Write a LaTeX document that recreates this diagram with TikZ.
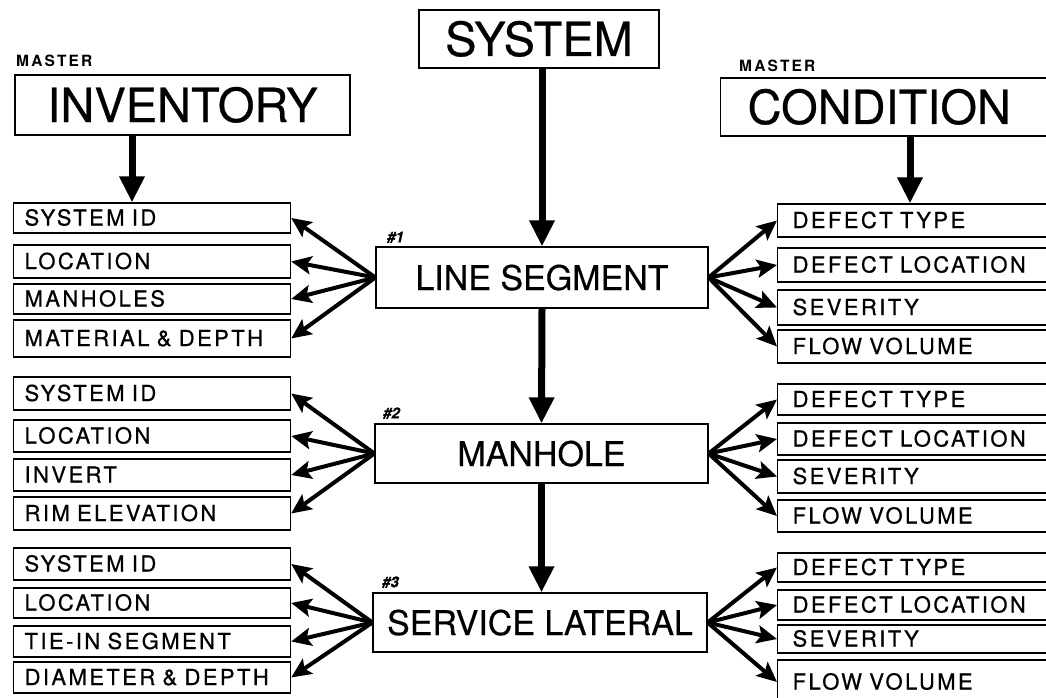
\documentclass[tikz,border=0pt]{standalone}
\usepackage{fontspec}
\setmainfont{TeX Gyre Heros}[FakeBold=0.5]
\newfontfamily\boxfont[LetterSpace=11,FakeBold=0.7]{TeX Gyre Heros}
\newfontfamily\masterfont[LetterSpace=14]{TeX Gyre Heros}
\usetikzlibrary{arrows.meta}
\tikzset{
  box/.style={draw, line width=1.2pt, inner sep=0pt},
  bigbox/.style={box, font=\fontsize{47}{50}\selectfont, text height=34pt, text depth=0pt},
  midbox/.style={box, font=\fontsize{34}{38}\selectfont, text height=25pt, text depth=0pt},
  lbox/.style={box, anchor=west, font=\boxfont\fontsize{22}{24}\selectfont,
    text height=15pt, text depth=0pt, text width=255pt, align=left, inner xsep=11pt},
  rbox/.style={box, anchor=west, font=\boxfont\fontsize{22}{24}\selectfont,
    text height=15pt, text depth=0pt, text width=290pt, align=left, inner xsep=15pt},
  masterlbl/.style={inner sep=0pt, anchor=south west, font=\masterfont\bfseries\fontsize{15.5}{16}\selectfont},
  numlbl/.style={inner sep=0pt, anchor=south west, font=\bfseries\itshape\fontsize{15}{16}\selectfont},
  mainarrow/.style={line width=7pt, -{Triangle[width=24pt,length=26pt]}},
  fan/.style={line width=4pt, -{Stealth[width=18pt,length=20pt,inset=4pt]}}
}
\begin{document}
\begin{tikzpicture}[x=1pt,y=-1pt]
\useasboundingbox (0,0) rectangle (1046,698);
\clip (0,0) rectangle (1046,698);
\fill[white] (0,0) rectangle (1046,698);

% top boxes
\node[bigbox, minimum width=240pt, minimum height=58pt] (sys) at (539,39) {SYSTEM};
\node[masterlbl] (m1) at (16,67) {MASTER};
\node[bigbox, minimum width=335pt, minimum height=60pt] (inv) at (182.5,105) {INVENTORY};
\node[masterlbl] (m2) at (739,72) {MASTER};
\node[bigbox, anchor=west, minimum width=340pt, minimum height=58pt, text width=320pt, inner xsep=27pt, align=left] (cond) at (720,107) {CONDITION};

% central boxes
\node[midbox, minimum width=332pt, minimum height=61pt] (ls) at (542,277.5) {LINE SEGMENT};
\node[midbox, minimum width=333pt, minimum height=59pt] (mh) at (541.5,453.5) {MANHOLE};
\node[midbox, minimum width=334pt, minimum height=59pt] (sl) at (540,622.5) {SERVICE LATERAL};
\node[numlbl] (n1) at (387,243) {\#1};
\node[numlbl] (n2) at (383,419) {\#2};
\node[numlbl] (n3) at (382,588) {\#3};

% left group 1
\node[lbox, minimum height=30pt] (a1) at (13,218) {SYSTEM ID};
\node[lbox, minimum height=33pt] (a2) at (13,261.5) {LOCATION};
\node[lbox, minimum height=30pt] (a3) at (13,299) {MANHOLES};
\node[lbox, minimum height=37pt] (a4) at (13,338.5) {MATERIAL \& DEPTH};
% left group 2
\node[lbox, minimum height=33pt] (b1) at (13,393.5) {SYSTEM ID};
\node[lbox, minimum height=32pt] (b2) at (13,436) {LOCATION};
\node[lbox, minimum height=32pt] (b3) at (13,475) {INVERT};
\node[lbox, minimum height=33pt] (b4) at (13,513.5) {RIM ELEVATION};
% left group 3
\node[lbox, minimum height=32pt] (c1) at (13,564) {SYSTEM ID};
\node[lbox, minimum height=30pt] (c2) at (13,603) {LOCATION};
\node[lbox, minimum height=31pt] (c3) at (13,641.5) {TIE-IN SEGMENT};
\node[lbox, minimum height=31pt] (c4) at (13,677.5) {DIAMETER \& DEPTH};

% right group 1
\node[rbox, minimum height=33pt] (d1) at (777,220.5) {DEFECT TYPE};
\node[rbox, minimum height=34pt] (d2) at (777,265) {DEFECT LOCATION};
\node[rbox, minimum height=35pt] (d3) at (777,307.5) {SEVERITY};
\node[rbox, minimum height=33pt] (d4) at (777,346.5) {FLOW VOLUME};
% right group 2
\node[rbox, minimum height=31pt] (e1) at (777,399.5) {DEFECT TYPE};
\node[rbox, minimum height=32pt] (e2) at (777,439) {DEFECT LOCATION};
\node[rbox, minimum height=33pt] (e3) at (777,476.5) {SEVERITY};
\node[rbox, minimum height=32pt] (e4) at (777,516) {FLOW VOLUME};
% right group 3
\node[rbox, minimum height=29pt] (f1) at (777,567.5) {DEFECT TYPE};
\node[rbox, minimum height=30pt] (f2) at (777,605) {DEFECT LOCATION};
\node[rbox, minimum height=28pt] (f3) at (777,639) {SEVERITY};
\node[rbox, minimum height=44pt] (f4) at (777,682) {FLOW VOLUME};

% main arrows
\draw[mainarrow] (ls.north |- sys.south) -- (ls.north);
\draw[mainarrow] (ls.south) -- (mh.north);
\draw[mainarrow] (mh.south) -- (mh.south |- sl.north);
\draw[mainarrow] (inv.south -| 132,0) -- (a1.north -| 132,0);
\draw[mainarrow] (cond.south -| 910,0) -- (d1.north -| 910,0);

% fans
\foreach \t in {a1,a2,a3,a4} \draw[fan] (ls.west) -- (\t.east);
\foreach \t in {b1,b2,b3,b4} \draw[fan] (mh.west) -- (\t.east);
\foreach \t in {c1,c2,c3,c4} \draw[fan] (sl.west) -- (\t.east);
\foreach \t in {d1,d2,d3,d4} \draw[fan] (ls.east) -- (\t.west);
\foreach \t in {e1,e2,e3,e4} \draw[fan] (mh.east) -- (\t.west);
\foreach \t in {f1,f2,f3,f4} \draw[fan] (sl.east) -- (\t.west);
\end{tikzpicture}
\end{document}
